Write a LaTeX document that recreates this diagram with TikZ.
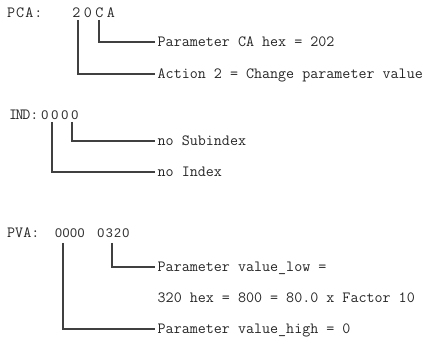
\documentclass[tikz,border=0pt]{standalone}
\usepackage{fontspec}
\newfontfamily\digfont{Liberation Sans}
\begin{document}
\begin{tikzpicture}[x=1pt,y=-1pt,
	txt/.style={font=\fontsize{15.6}{18}\selectfont\ttfamily,inner sep=0pt,text=black!85},
	dig/.style={font=\fontsize{12.6}{15}\selectfont\digfont,inner sep=0pt,anchor=base,text=black!80},
	lbl/.style={txt,anchor=west,text height=9pt,text depth=0pt,inner xsep=2.5pt},
	tree/.style={line width=1.1pt,draw=black!75}]
				\useasboundingbox (0,0) rectangle (440,342);
				\def\lx{155}
				% PCA
				\node[txt,anchor=base west] (pca) at (7,18) {P\kern1pt C\kern1pt A\kern1pt:};
				\foreach \ch [count=\i] in {2,0,C,A}
					\node[txt,anchor=base] (pca\i) at ({65+11.5*\i},18) {\ch};
				\coordinate (pcaA) at (78,20);
				\coordinate (pcaB) at (99,20);
				\node[lbl] (par) at (\lx,42) {Parameter CA hex = 202};
				\node[lbl] (act) at (\lx,74) {Action 2 = Change parameter value};
				\draw[tree] (pcaB) |- (par.west);
				\draw[tree] (pcaA) |- (act.west);
				% IND
				\node[txt,anchor=base west] (ind) at (9,120) {I\kern-1.5pt N\kern-1.5pt D:};
				\foreach \i in {1,...,4}
					\node[dig] (ind\i) at ({35+10*\i},120) {0};
				\coordinate (indA) at (52,122);
				\coordinate (indB) at (72,122);
				\node[lbl] (nosub) at (\lx,141) {no Subindex};
				\node[lbl] (noidx) at (\lx,172) {no Index};
				\draw[tree] (indB) |- (nosub.west);
				\draw[tree] (indA) |- (noidx.west);
				% PVA
				\node[txt,anchor=base west] (pva) at (7,238) {PVA:};
				\foreach \ch [count=\i] in {0,0,0,0}
					\node[dig] (pvh\i) at ({51.25+7.5*\i},238) {\ch};
				\foreach \ch [count=\i] in {0,3,2,0}
					\node[dig] (pvl\i) at ({92.7+8.3*\i},238) {\ch};
				\coordinate (pvaA) at (63,243);
				\coordinate (pvaB) at (112,243);
				\node[lbl] (vlow) at (\lx,267) {Parameter value\_low =};
				\node[lbl] (vhex) at (\lx,298) {320 hex = 800 = 80.0 x Factor 10};
				\node[lbl] (vhigh) at (\lx,329) {Parameter value\_high = 0};
				\draw[tree] (pvaB) |- (vlow.west);
				\draw[tree] (pvaA) |- (vhigh.west);
\end{tikzpicture}
\end{document}
